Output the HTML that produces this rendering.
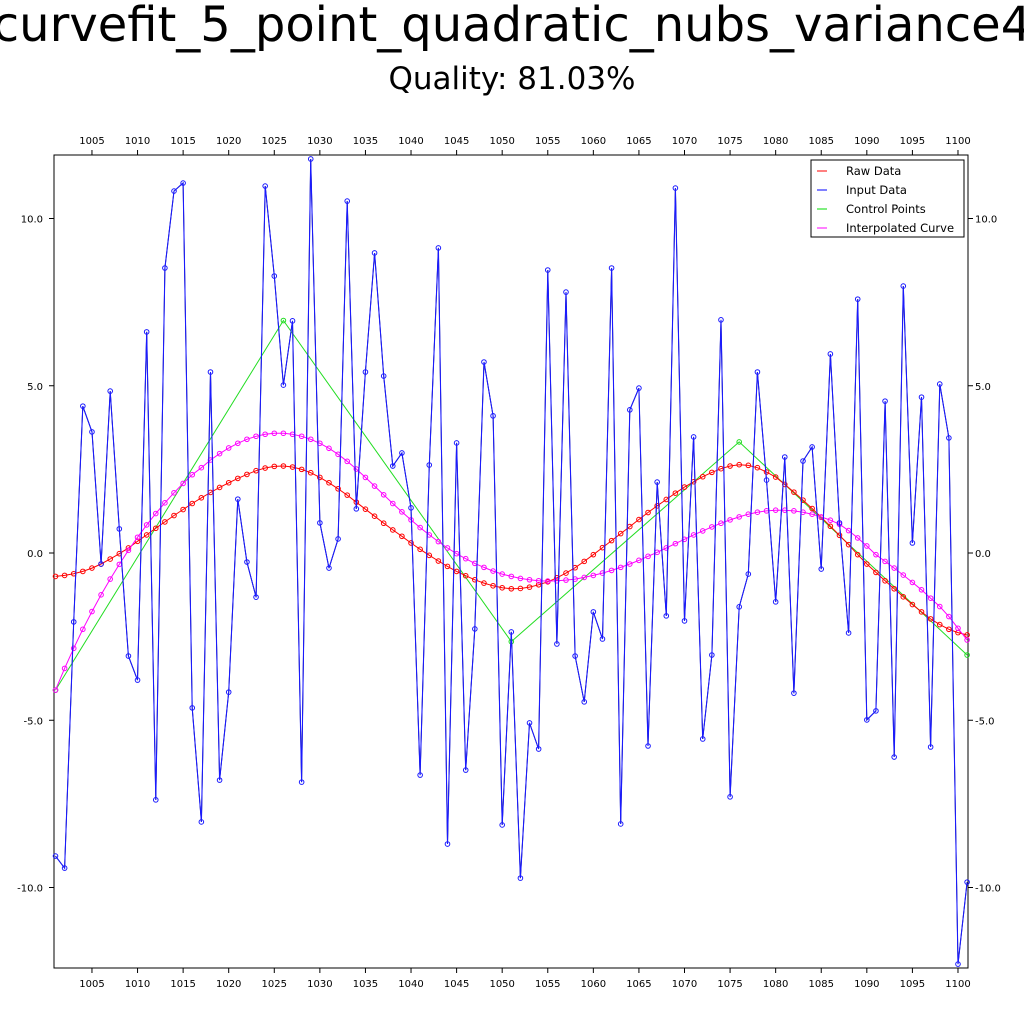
<!DOCTYPE html>
<html><head><meta charset="utf-8"><style>
html,body{margin:0;padding:0;background:#fff;}
body{width:1024px;height:1024px;overflow:hidden;position:relative;font-family:"DejaVu Sans","Liberation Sans",sans-serif;}
#title{position:absolute;left:-300px;width:1624px;top:-3px;text-align:center;font-size:48px;white-space:nowrap;color:#000;}
#subtitle{position:absolute;left:0;width:1024px;top:61px;text-align:center;font-size:31px;color:#000;}
svg{position:absolute;left:0;top:0;}
</style></head><body>
<div id="title">curvefit_5_point_quadratic_nubs_variance4</div>
<div id="subtitle">Quality: 81.03%</div>
<svg id="chart" width="1024" height="1024"></svg>
<script>
const xStart = 1001;
const inputValues = [-9.06,-9.42,-2.06,4.39,3.62,-0.33,4.84,0.72,-3.08,-3.80,
6.61,-7.38,8.52,10.82,11.06,-4.63,-8.04,5.41,-6.79,-4.16,
1.61,-0.27,-1.32,10.97,8.28,5.02,6.94,-6.85,11.78,0.90,
-0.45,0.42,10.52,1.32,5.41,8.97,5.29,2.60,2.99,1.35,
-6.64,2.63,9.12,-8.70,3.29,-6.49,-2.27,5.71,4.10,-8.13,
-2.36,-9.72,-5.08,-5.86,8.46,-2.72,7.80,-3.08,-4.45,-1.76,
-2.57,8.52,-8.10,4.28,4.93,-5.77,2.12,-1.88,10.91,-2.03,
3.47,-5.56,-3.05,6.97,-7.29,-1.61,-0.63,5.41,2.18,-1.46,
2.87,-4.19,2.75,3.17,-0.48,5.95,0.90,-2.39,7.59,-4.99,
-4.72,4.54,-6.10,7.98,0.30,4.66,-5.80,5.05,3.44,-12.29,-9.84];
const controlX = [1001,1026,1051,1076,1101];
const controlY = [-4.1,6.95,-2.65,3.32,-3.05];
const fitValues = [-0.70,-0.67,-0.62,-0.55,-0.45,-0.33,-0.18,-0.02,0.15,0.35,
0.54,0.74,0.93,1.12,1.30,1.48,1.65,1.81,1.96,2.10,
2.23,2.35,2.46,2.54,2.59,2.60,2.57,2.50,2.40,2.26,
2.10,1.92,1.73,1.52,1.31,1.10,0.89,0.69,0.50,0.30,
0.11,-0.07,-0.24,-0.40,-0.55,-0.68,-0.80,-0.90,-0.98,-1.04,
-1.07,-1.06,-1.02,-0.95,-0.86,-0.74,-0.60,-0.44,-0.25,-0.05,
0.16,0.37,0.58,0.79,1.00,1.21,1.41,1.60,1.79,1.97,
2.13,2.28,2.41,2.52,2.60,2.64,2.62,2.55,2.42,2.27,
2.05,1.82,1.58,1.33,1.07,0.80,0.53,0.25,-0.05,-0.33,
-0.58,-0.83,-1.07,-1.31,-1.54,-1.76,-1.97,-2.14,-2.28,-2.38,-2.45];
const interpValues = [-4.10,-3.45,-2.85,-2.28,-1.75,-1.25,-0.78,-0.34,0.08,0.47,
0.84,1.18,1.50,1.80,2.08,2.34,2.55,2.78,2.97,3.14,
3.28,3.40,3.49,3.55,3.58,3.58,3.55,3.49,3.40,3.28,
3.13,2.95,2.74,2.51,2.26,2.00,1.74,1.48,1.23,0.99,
0.76,0.54,0.34,0.15,-0.02,-0.17,-0.31,-0.43,-0.54,-0.63,
-0.70,-0.76,-0.80,-0.83,-0.84,-0.83,-0.81,-0.78,-0.73,-0.67,
-0.60,-0.52,-0.43,-0.33,-0.22,-0.10,0.02,0.15,0.28,0.41,
0.54,0.66,0.78,0.89,0.99,1.08,1.16,1.22,1.26,1.28,
1.28,1.26,1.22,1.16,1.08,0.98,0.86,0.67,0.45,0.21,
-0.05,-0.25,-0.45,-0.66,-0.88,-1.10,-1.35,-1.60,-1.90,-2.25,-2.60,-3.05];
const xTicks = [1005,1010,1015,1020,1025,1030,1035,1040,1045,1050,1055,1060,1065,1070,1075,1080,1085,1090,1095,1100];
const yTicks = [-10,-5,0,5,10];
const yTickLabels = ["-10.0","-5.0","0.0","5.0","10.0"];

const L=54,R=968,T=155,B=968;
function sx(v){return 55.5+(v-1001)*9.116;}
function sy(v){return 553-v*33.45;}
const svg=document.getElementById('chart');
const NS='http://www.w3.org/2000/svg';
function mk(tag,attrs,parent){const e=document.createElementNS(NS,tag);for(const k in attrs)e.setAttribute(k,attrs[k]);(parent||svg).appendChild(e);return e;}

const frame=mk('rect',{x:L,y:T,width:R-L,height:B-T,fill:'none',stroke:'#000','stroke-width':1});



xTicks.forEach(t=>{
  const x=sx(t);
  const a=mk('line',{x1:x,y1:T,x2:x,y2:T-5,stroke:'#000'});
  
  
  const b=mk('line',{x1:x,y1:B,x2:x,y2:B+5,stroke:'#000'});
  
  
  const t1=mk('text',{x:x,y:144,'font-size':10,'text-anchor':'middle',fill:'#000'});t1.textContent=t;
  
  
  const t2=mk('text',{x:x,y:987,'font-size':10,'text-anchor':'middle',fill:'#000'});t2.textContent=t;
  
  
});
yTicks.forEach((t,i)=>{
  const y=sy(t);
  const a=mk('line',{x1:L,y1:y,x2:L-5,y2:y,stroke:'#000'});
  
  
  const b=mk('line',{x1:R,y1:y,x2:R+5,y2:y,stroke:'#000'});
  
  
  const t1=mk('text',{x:43,y:y+4,'font-size':10,'text-anchor':'end',fill:'#000'});t1.textContent=yTickLabels[i];
  
  
  const t2=mk('text',{x:975,y:y+4,'font-size':10,'text-anchor':'start',fill:'#000'});t2.textContent=yTickLabels[i];
  
  
});

function series(xs,ys,color,name,w,markers){
  const g=mk('g',{});
  
  
  const pts=xs.map((x,i)=>sx(x).toFixed(1)+','+sy(ys[i]).toFixed(1)).join(' ');
  mk('polyline',{points:pts,fill:'none',stroke:color,'stroke-width':w},g);
  if(markers){xs.forEach((x,i)=>{const c=mk('circle',{cx:sx(x),cy:sy(ys[i]),r:2.3,fill:'none',stroke:color,'stroke-width':1},g);
    
    });}
}
const xsAll=inputValues.map((_,i)=>xStart+i);
series(xsAll,inputValues,'#000','raw-data-line',0.9,false);
series(controlX,controlY,'#22dd22','control-points-line',1,true);
series(xsAll,fitValues,'#ff0000','fit-curve',1,true);
series(xsAll,interpValues,'#ff00ff','interpolated-curve',1,true);
series(xsAll,inputValues,'#1a1aff','input-data-line',1.1,true);

const lg=mk('g',{});


mk('rect',{x:811,y:160,width:153,height:77,fill:'#fff',stroke:'#000','stroke-width':1},lg);
const legendLabels=['Raw Data','Input Data','Control Points','Interpolated Curve'];
const legendColors=['#ff0000','#0000ff','#00dd00','#ff00ff'];
legendLabels.forEach((lab,i)=>{
  const y=171+i*19;
  const ln=mk('line',{x1:817,y1:y,x2:827,y2:y,stroke:legendColors[i],'stroke-width':1},lg);
  
  
  const tx=mk('text',{x:846,y:y+4,'font-size':11.5,fill:'#000'},lg);tx.textContent=lab;
  
  
});
</script>
</body></html>
